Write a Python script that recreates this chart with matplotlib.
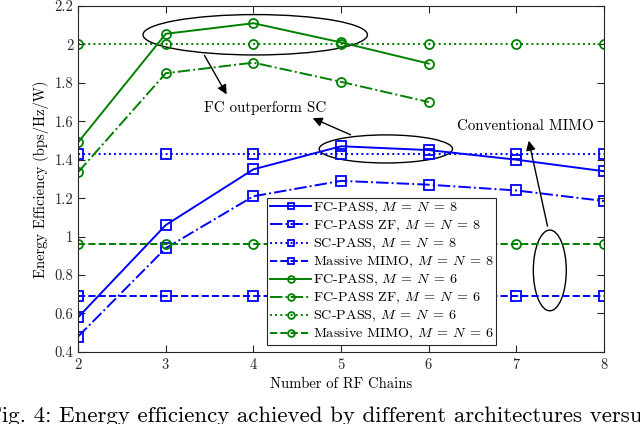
import numpy as np
import matplotlib.pyplot as plt
from matplotlib.patches import Ellipse

plt.rcParams['font.family'] = 'serif'
plt.rcParams['font.serif'] = ['cmr10', 'DejaVu Serif']
plt.rcParams['mathtext.fontset'] = 'cm'
plt.rcParams['axes.formatter.use_mathtext'] = True

# data
rf = np.array([2, 3, 4, 5, 6, 7, 8])
rf6 = np.array([2, 3, 4, 5, 6])

fc8 = [0.58, 1.06, 1.35, 1.47, 1.45, 1.40, 1.34]
fczf8 = [0.48, 0.94, 1.21, 1.29, 1.27, 1.24, 1.185]
sc8 = [1.43] * 7
mimo8 = [0.69] * 7

fc6 = [1.49, 2.055, 2.11, 2.01, 1.90]
fczf6 = [1.335, 1.85, 1.905, 1.805, 1.70]
sc6 = [2.0] * 7
mimo6 = [0.96] * 7

blue = (0, 0, 1)
green = (0, 0.5, 0)

fig = plt.figure(figsize=(6.4, 4.24), dpi=100)
ax = fig.add_axes([0.122, 0.170, 0.822, 0.816])

mn = r'$M\:=\:N\:=\:%d$'
kw = dict(lw=1.4, ms=6.5, mfc='none', mew=1.3)
ax.plot(rf, fc8, '-s', color=blue, label='FC-PASS, ' + mn % 8, **kw)
ax.plot(rf, fczf8, '-.s', color=blue, label='FC-PASS ZF, ' + mn % 8, **kw)
ax.plot(rf, sc8, ':s', color=blue, label='SC-PASS, ' + mn % 8, **kw)
ax.plot(rf, mimo8, '--s', color=blue, label='Massive MIMO, ' + mn % 8, **kw)
ax.plot(rf6, fc6, '-o', color=green, label='FC-PASS, ' + mn % 6, **kw)
ax.plot(rf6, fczf6, '-.o', color=green, label='FC-PASS ZF, ' + mn % 6, **kw)
ax.plot(rf, sc6, ':o', color=green, label='SC-PASS, ' + mn % 6, **kw)
ax.plot(rf, mimo6, '--o', color=green, label='Massive MIMO, ' + mn % 6, **kw)

ax.set_xlim(2, 8)
ax.set_ylim(0.4, 2.2)
ax.set_xticks(rf)
ax.set_yticks([0.4, 0.6, 0.8, 1, 1.2, 1.4, 1.6, 1.8, 2, 2.2])
ax.set_yticklabels(['0.4', '0.6', '0.8', '1', '1.2', '1.4', '1.6', '1.8', '2', '2.2'])
ax.tick_params(direction='in', top=True, right=True, labelsize=10.5, colors='#262626', length=5)
for s in ax.spines.values():
    s.set_color('#262626')
    s.set_linewidth(0.8)
ax.set_xlabel('Number of RF Chains', fontsize=10.5)
ax.set_ylabel('Energy Efficiency (bps/Hz/W)', fontsize=10.5)

leg = ax.legend(loc='lower left', bbox_to_anchor=(0.36, 0.02), fontsize=10.2,
                frameon=True, fancybox=False, edgecolor='#262626', framealpha=1,
                handlelength=2.9, handletextpad=0.1, labelspacing=0.2,
                borderpad=0.2, borderaxespad=0, markerscale=0.75)
leg.get_frame().set_linewidth(0.8)

# annotations
ax.add_patch(Ellipse((4.02, 2.05), 2.56, 0.21, fill=False, ec='k', lw=1))
ax.add_patch(Ellipse((5.51, 1.456), 1.52, 0.146, fill=False, ec='k', lw=1))
ax.add_patch(Ellipse((7.38, 0.824), 0.376, 0.42, fill=False, ec='k', lw=1))

ap = dict(arrowstyle='-|>', color='k', lw=1, mutation_scale=14)
ax.text(4.13, 1.669, 'FC outperform SC', ha='center', va='center', fontsize=10.8)
ax.annotate('', xy=(3.71, 1.727), xytext=(3.426, 1.955), arrowprops=ap)
ax.annotate('', xy=(4.646, 1.622), xytext=(5.137, 1.524), arrowprops=ap)
ax.text(7.1, 1.576, 'Conventional MIMO', ha='center', va='center', fontsize=10.8)
ax.annotate('', xy=(7.133, 1.513), xytext=(7.361, 1.04), arrowprops=ap)

fig.text(-0.02, 0.042, 'Fig. 4: Energy efficiency achieved by different architectures versus',
         fontsize=16.5, va='top', ha='left')

fig.savefig('out.png', dpi=100)
